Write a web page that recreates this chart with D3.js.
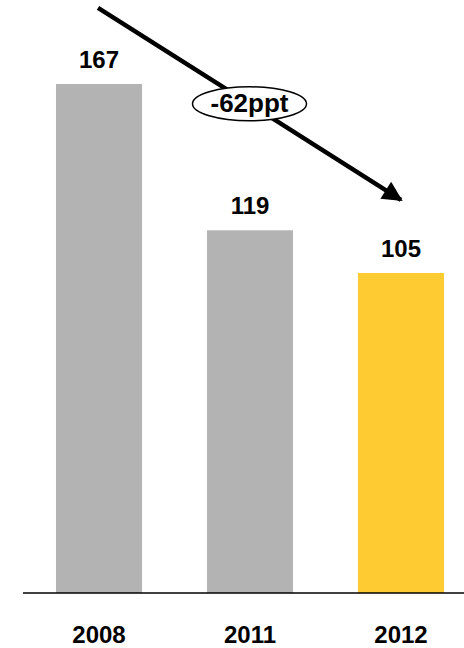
<!DOCTYPE html>
<html>
<head>
<meta charset="utf-8">
<script src="https://cdn.jsdelivr.net/npm/d3@7"></script>
<style>
  html, body { margin: 0; padding: 0; background: #fff; overflow: hidden; }
  svg { display: block; }
  text { font-family: "Liberation Sans", Arial, sans-serif; font-weight: bold; fill: #000; }
</style>
</head>
<body>
<svg id="chart" width="464" height="648"></svg>
<script>
// Data
const years = ["2008", "2011", "2012"];
const values = [167, 119, 105];
const barColors = ["#b3b3b3", "#b3b3b3", "#ffcb32"];
// Trend arrow: runs from the first to the last year, at these value heights
const arrowValues = [192, 129];

const svg = d3.select("#chart");
const W = 464, H = 648;

const x = d3.scaleBand()
  .domain(years)
  .range([23, 477])
  .paddingInner(0.43)
  .paddingOuter(0.2185);

const y = d3.scaleLinear()
  .domain([0, 167])
  .range([593, 84]);

// Bars
svg.selectAll("rect.bar")
  .data(years)
  .join("rect")
  .attr("class", "bar")
  .attr("x", d => x(d))
  .attr("width", x.bandwidth())
  .attr("y", (d, i) => y(values[i]))
  .attr("height", (d, i) => y(0) - y(values[i]))
  .attr("fill", (d, i) => barColors[i]);

// Value labels
svg.selectAll("text.value")
  .data(years)
  .join("text")
  .attr("class", "value")
  .attr("x", d => x(d) + x.bandwidth() / 2)
  .attr("y", (d, i) => y(values[i]) - 16)
  .attr("text-anchor", "middle")
  .style("font-size", "24px")
  .text((d, i) => values[i]);

// Baseline
svg.append("line")
  .attr("x1", 23).attr("x2", W)
  .attr("y1", y(0)).attr("y2", y(0))
  .attr("stroke", "#000")
  .attr("stroke-width", 1.5);

// Category axis (labels only)
const xAxis = d3.axisBottom(x).tickSize(0).tickPadding(0);
const gx = svg.append("g")
  .attr("transform", `translate(0,${y(0)})`)
  .call(xAxis);
gx.select(".domain").remove();
gx.selectAll("text")
  .attr("y", 50)
  .attr("dy", 0)
  .style("font-size", "24px")
  .style("font-family", "'Liberation Sans', Arial, sans-serif")
  .style("font-weight", "bold")
  .attr("fill", "#000");

// Trend arrow
const defs = svg.append("defs");
defs.append("marker")
  .attr("id", "arrowhead")
  .attr("viewBox", "0 0 10 10")
  .attr("refX", 9)
  .attr("refY", 5)
  .attr("markerUnits", "userSpaceOnUse")
  .attr("markerWidth", 22)
  .attr("markerHeight", 20)
  .attr("orient", "auto")
  .append("path")
  .attr("d", "M0,0 L10,5 L0,10 Z")
  .attr("fill", "#000");

const first = years[0], last = years[years.length - 1];
const ax1 = x(first) + x.bandwidth() / 2 - 1;
const ay1 = y(arrowValues[0]);
const ax2 = x(last) + x.bandwidth() / 2;
const ay2 = y(arrowValues[1]);

svg.append("line")
  .attr("x1", ax1).attr("y1", ay1)
  .attr("x2", ax2).attr("y2", ay2)
  .attr("stroke", "#000")
  .attr("stroke-width", 4.5)
  .attr("marker-end", "url(#arrowhead)");

// Change label on the arrow's midpoint
const mx = (ax1 + ax2) / 2, my = (ay1 + ay2) / 2;
const change = values[values.length - 1] - values[0];
svg.append("ellipse")
  .attr("cx", mx).attr("cy", my)
  .attr("rx", 57).attr("ry", 17)
  .attr("fill", "#fff")
  .attr("stroke", "#000")
  .attr("stroke-width", 1.5);
svg.append("text")
  .attr("x", mx)
  .attr("y", my + 8.5)
  .attr("text-anchor", "middle")
  .style("font-size", "26px")
  .text(`${change}ppt`);
</script>
</body>
</html>
